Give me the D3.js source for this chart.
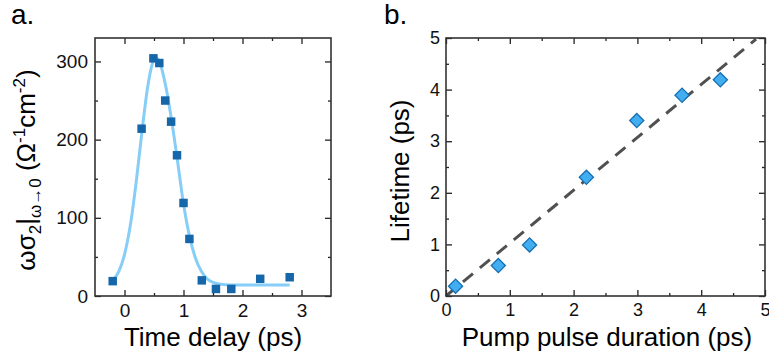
<!DOCTYPE html>
<html>
<head>
<meta charset="utf-8">
<script src="https://cdn.jsdelivr.net/npm/d3@7"></script>
<style>
  body { margin: 0; background: #fff; }
  svg { display: block; font-family: "Liberation Sans", Arial, sans-serif; }
  .axis path { display: none; }
  .axis line { stroke: #222; stroke-width: 1.3; }
  .axis text { fill: #111; }
</style>
</head>
<body>
<svg id="chart" width="769" height="363"></svg>
<script>
// panel a: conductivity vs time delay
var delayX = [-0.2, 0.29, 0.49, 0.59, 0.69, 0.79, 0.89, 1.0, 1.1, 1.31, 1.55, 1.81, 2.3, 2.8]
var sigmaY = [19, 214, 304, 298, 250, 223, 180, 119, 73, 20, 9, 9, 22, 24]
var fitX = [-0.2, -0.1, 0.0, 0.1, 0.2, 0.3, 0.4, 0.5, 0.55, 0.6, 0.7, 0.8, 0.9, 1.0, 1.1, 1.2, 1.3, 1.4, 1.5, 1.6, 1.7, 1.8, 2.0, 2.4, 2.8]
var fitY = [20, 31, 53, 91, 147, 213, 271, 302, 304, 298, 268, 224, 172, 118, 77, 49, 32, 22, 17.5, 15.3, 14.5, 14.2, 14, 14, 14]
var aXTicks = [0, 1, 2, 3]
var aXMinor = [0.5, 1.5, 2.5]
var aYTicks = [0, 100, 200, 300]
var aYMinor = [50, 150, 250]

// panel b: lifetime vs pump pulse duration
var pulseX = [0.15, 0.82, 1.31, 2.2, 2.99, 3.7, 4.3]
var lifetimeY = [0.19, 0.59, 0.99, 2.3, 3.4, 3.89, 4.19]
var guideX = [0, 4.86]
var guideY = [0, 4.98]
var bTicks = [0, 1, 2, 3, 4, 5]
var bMinor = [0.5, 1.5, 2.5, 3.5, 4.5]

var svg = d3.select('#chart')

function drawFrame (g, x, y, xTicks, xMinor, yTicks, yMinor, fontSize, padX, padY) {
  var w = x.range()[1] - x.range()[0]
  var h = y.range()[0] - y.range()[1]
  var x0 = x.range()[0]
  var y1 = y.range()[1]

  // inward ticks on all four sides
  g.append('g').attr('class', 'axis').attr('transform', 'translate(0,' + y.range()[0] + ')')
    .call(d3.axisBottom(x).tickValues(xTicks).tickSize(-6).tickPadding(padX).tickFormat(d3.format('d')))
    .selectAll('text').style('font-size', fontSize + 'px')
  g.append('g').attr('class', 'axis').attr('transform', 'translate(0,' + y.range()[0] + ')')
    .call(d3.axisBottom(x).tickValues(xMinor).tickSize(-3).tickFormat(''))
  g.append('g').attr('class', 'axis').attr('transform', 'translate(0,' + y1 + ')')
    .call(d3.axisTop(x).tickValues(xTicks).tickSize(-6).tickFormat(''))
  g.append('g').attr('class', 'axis').attr('transform', 'translate(0,' + y1 + ')')
    .call(d3.axisTop(x).tickValues(xMinor).tickSize(-3).tickFormat(''))

  g.append('g').attr('class', 'axis').attr('transform', 'translate(' + x0 + ',0)')
    .call(d3.axisLeft(y).tickValues(yTicks).tickSize(-6).tickPadding(padY).tickFormat(d3.format('d')))
    .selectAll('text').style('font-size', fontSize + 'px')
  g.append('g').attr('class', 'axis').attr('transform', 'translate(' + x0 + ',0)')
    .call(d3.axisLeft(y).tickValues(yMinor).tickSize(-3).tickFormat(''))
  g.append('g').attr('class', 'axis').attr('transform', 'translate(' + x.range()[1] + ',0)')
    .call(d3.axisRight(y).tickValues(yTicks).tickSize(-6).tickFormat(''))
  g.append('g').attr('class', 'axis').attr('transform', 'translate(' + x.range()[1] + ',0)')
    .call(d3.axisRight(y).tickValues(yMinor).tickSize(-3).tickFormat(''))

  g.append('rect')
    .attr('x', x0).attr('y', y1).attr('width', w).attr('height', h)
    .attr('fill', 'none').attr('stroke', '#333').attr('stroke-width', 1.6)
}

// ---- panel a ----
var xa = d3.scaleLinear().domain([-0.5, 3.5]).range([95, 331])
var ya = d3.scaleLinear().domain([0, 330]).range([296, 38])
var ga = svg.append('g')

ga.append('path')
  .datum(fitX.map(function (d, i) { return [d, fitY[i]] }))
  .attr('d', d3.line().curve(d3.curveMonotoneX).x(function (d) { return xa(d[0]) }).y(function (d) { return ya(d[1]) }))
  .attr('fill', 'none').attr('stroke', '#86cdf7').attr('stroke-width', 3)

ga.selectAll('.sq').data(delayX).enter().append('path')
  .attr('class', 'sq')
  .attr('d', d3.symbol().type(d3.symbolSquare).size(72))
  .attr('transform', function (d, i) { return 'translate(' + xa(d) + ',' + ya(sigmaY[i]) + ')' })
  .attr('fill', '#1567aa')

drawFrame(ga, xa, ya, aXTicks, aXMinor, aYTicks, aYMinor, 19, 8, 7)

svg.append('text').attr('x', 213).attr('y', 346).attr('text-anchor', 'middle')
  .style('font-size', '26px').text('Time delay (ps)')

var ta = svg.append('text')
  .attr('transform', 'translate(35,170) rotate(-90)')
  .attr('text-anchor', 'middle')
  .style('font-size', '26px')
ta.append('tspan').text('ωσ')
ta.append('tspan').attr('dy', 6).style('font-size', '17px').text('2')
ta.append('tspan').attr('dy', -6).text('|')
ta.append('tspan').attr('dy', 6).style('font-size', '17px').text('ω→0')
ta.append('tspan').attr('dy', -6).text(' (Ω')
ta.append('tspan').attr('dy', -10).style('font-size', '17px').text('-1')
ta.append('tspan').attr('dy', 10).text('cm')
ta.append('tspan').attr('dy', -10).style('font-size', '17px').text('-2')
ta.append('tspan').attr('dy', 10).text(')')

svg.append('text').attr('x', 11).attr('y', 24).style('font-size', '28px').text('a.')

// ---- panel b ----
var xb = d3.scaleLinear().domain([0, 5]).range([446, 765])
var yb = d3.scaleLinear().domain([0, 5]).range([296, 38])
var gb = svg.append('g')

gb.append('path')
  .datum(guideX.map(function (d, i) { return [d, guideY[i]] }))
  .attr('d', d3.line().x(function (d) { return xb(d[0]) }).y(function (d) { return yb(d[1]) }))
  .attr('fill', 'none').attr('stroke', '#505050').attr('stroke-width', 3)
  .attr('stroke-dasharray', '13,9')

gb.selectAll('.dm').data(pulseX).enter().append('path')
  .attr('class', 'dm')
  .attr('d', d3.symbol().type(d3.symbolSquare).size(100))
  .attr('transform', function (d, i) { return 'translate(' + xb(d) + ',' + yb(lifetimeY[i]) + ') rotate(45)' })
  .attr('fill', '#42aef2').attr('stroke', '#176fb3').attr('stroke-width', 1.3)

drawFrame(gb, xb, yb, bTicks, bMinor, bTicks, bMinor, 18, 7, 6)

svg.append('text').attr('x', 607).attr('y', 346).attr('text-anchor', 'middle')
  .style('font-size', '26px').text('Pump pulse duration (ps)')

svg.append('text')
  .attr('transform', 'translate(409,171) rotate(-90)')
  .attr('text-anchor', 'middle')
  .style('font-size', '26px').text('Lifetime (ps)')

svg.append('text').attr('x', 384).attr('y', 24).style('font-size', '28px').text('b.')
</script>
</body>
</html>
